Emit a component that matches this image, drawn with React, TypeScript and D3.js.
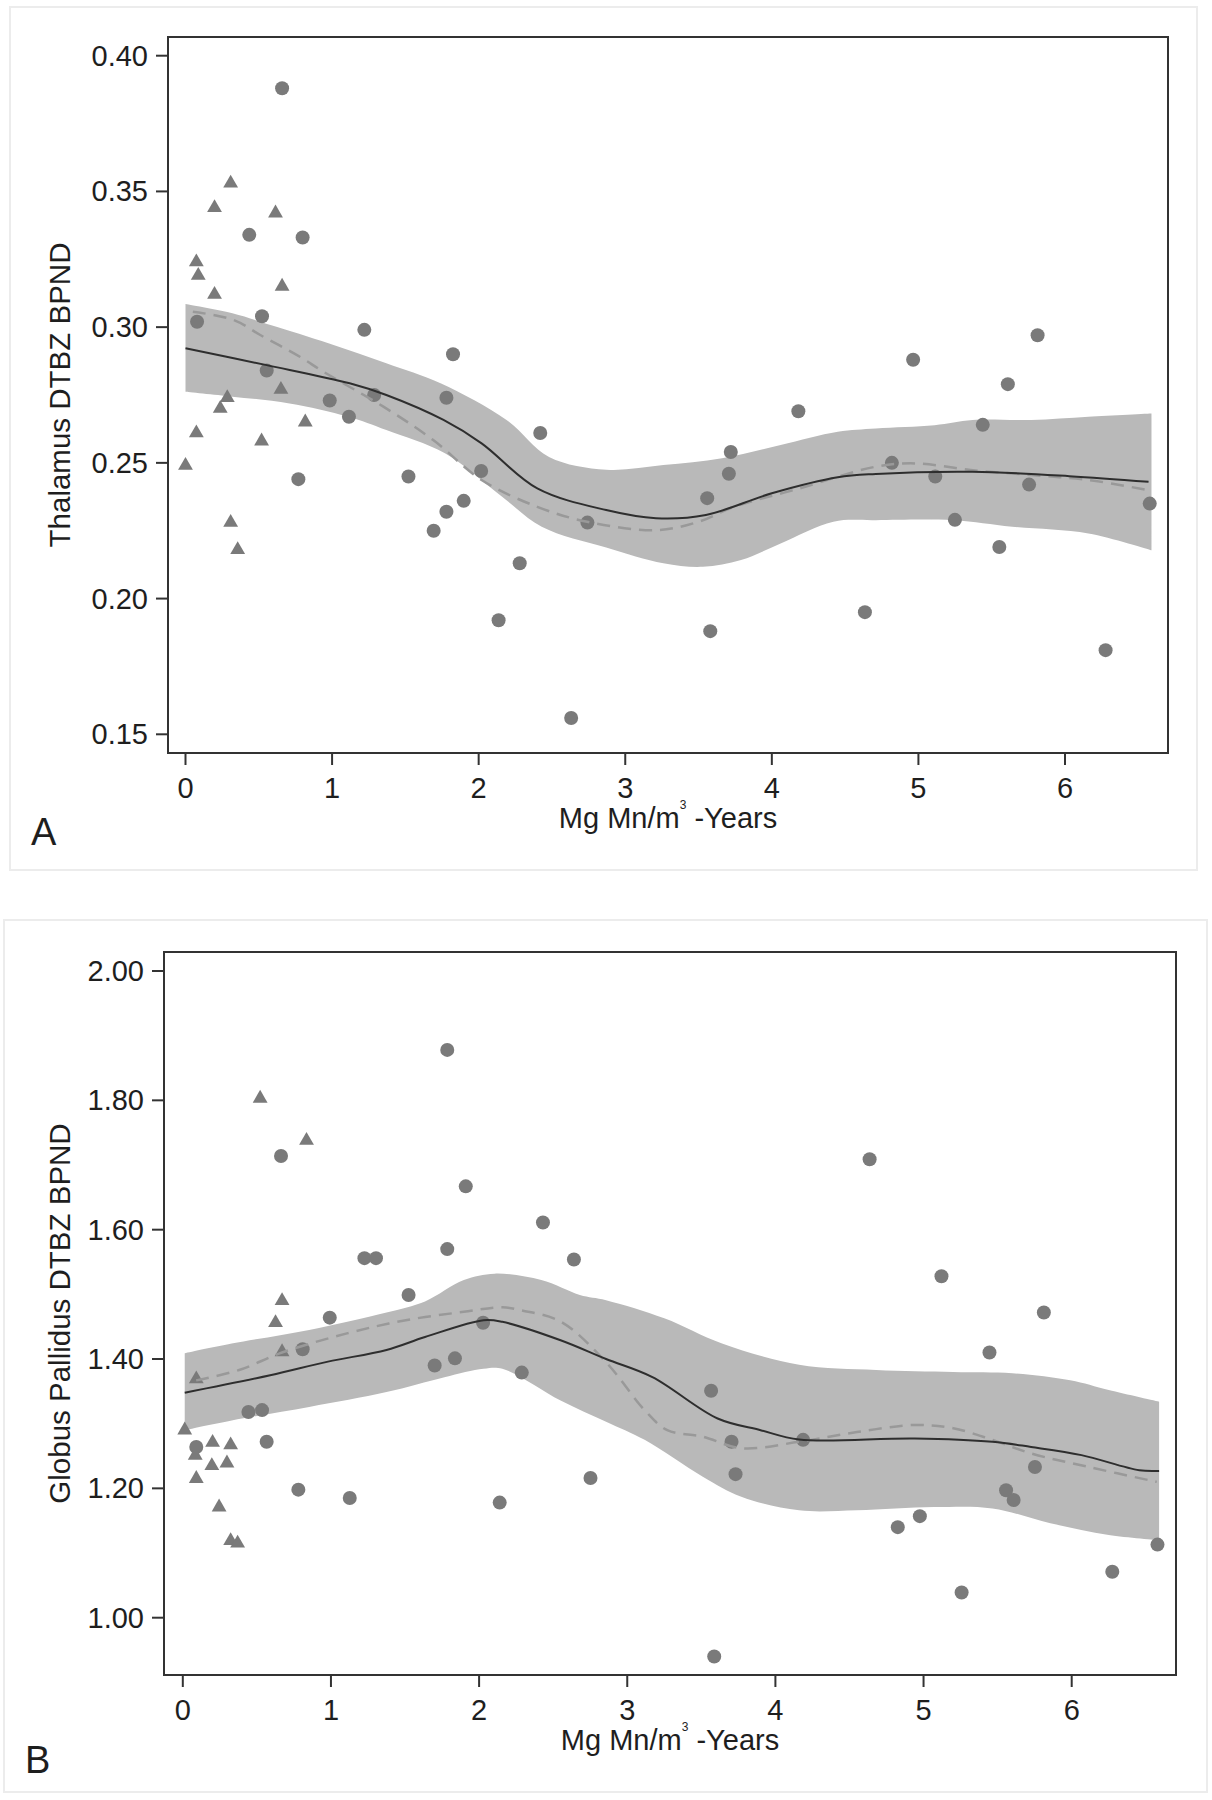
import React from "react";
import * as d3 from "d3";

// ---------- Panel A: Thalamus ----------
const aCircles: [number, number][] = [
  [0.079, 0.302], [0.435, 0.334], [0.522, 0.304], [0.554, 0.284], [0.659, 0.388],
  [0.770, 0.244], [0.799, 0.333], [0.984, 0.273], [1.115, 0.267], [1.220, 0.299],
  [1.287, 0.275], [1.521, 0.245], [1.693, 0.225], [1.780, 0.232], [1.780, 0.274],
  [1.825, 0.290], [1.898, 0.236], [2.017, 0.247], [2.136, 0.192], [2.280, 0.213],
  [2.420, 0.261], [2.631, 0.156], [2.742, 0.228], [3.559, 0.237], [3.580, 0.188],
  [3.707, 0.246], [3.720, 0.254], [4.181, 0.269], [4.635, 0.195], [4.819, 0.250],
  [4.964, 0.288], [5.115, 0.245], [5.249, 0.229], [5.439, 0.264], [5.552, 0.219],
  [5.610, 0.279], [5.755, 0.242], [5.813, 0.297], [6.277, 0.181], [6.578, 0.235],
];
const aTriangles: [number, number][] = [
  [0.000, 0.249], [0.074, 0.324], [0.087, 0.319], [0.074, 0.261], [0.198, 0.312],
  [0.198, 0.344], [0.237, 0.270], [0.285, 0.274], [0.308, 0.353], [0.308, 0.228],
  [0.356, 0.218], [0.519, 0.258], [0.614, 0.342], [0.651, 0.277], [0.659, 0.315],
  [0.817, 0.265],
];
const aFitX = [0, 0.554, 1.12, 1.37, 1.76, 2.02, 2.40, 2.87, 3.21, 3.55, 4.0, 4.45, 4.71, 5.37, 6.03, 6.57];
const aFitY = [0.2922, 0.286, 0.2793, 0.275, 0.2658, 0.2572, 0.2406, 0.2326, 0.2296, 0.2308, 0.2388, 0.2447, 0.2459, 0.2467, 0.2451, 0.243];
const aLowX = [0.05, 0.33, 0.51, 0.78, 0.94, 1.35, 1.69, 2.02, 2.40, 2.74, 3.21, 3.50, 3.74, 4.19, 4.71, 4.98, 5.37, 5.77, 6.16, 6.56];
const aLowY = [0.3057, 0.3026, 0.2971, 0.2891, 0.2836, 0.2707, 0.2584, 0.2437, 0.2338, 0.2283, 0.2252, 0.2283, 0.2338, 0.2406, 0.2486, 0.2498, 0.2473, 0.2455, 0.2437, 0.24];
const aUpX = [0, 0.32, 0.58, 0.98, 1.37, 1.74, 2.19, 2.48, 2.87, 3.26, 3.66, 4.06, 4.45, 4.71, 5.11, 5.37, 5.77, 6.16, 6.59];
const aUpY = [0.3085, 0.3051, 0.3008, 0.294, 0.2867, 0.2793, 0.2658, 0.2522, 0.2475, 0.2492, 0.2517, 0.2566, 0.2615, 0.2627, 0.2639, 0.2658, 0.2658, 0.267, 0.2682];
const aLoX = [0, 0.32, 0.71, 1.11, 1.37, 1.77, 2.16, 2.43, 2.87, 3.26, 3.53, 3.79, 4.06, 4.42, 4.71, 5.24, 5.64, 6.16, 6.59];
const aLoY = [0.2762, 0.2744, 0.2719, 0.267, 0.2621, 0.2535, 0.2375, 0.2265, 0.2188, 0.213, 0.2117, 0.2142, 0.2203, 0.2283, 0.2289, 0.2289, 0.2265, 0.224, 0.2178];
const aYTicks = [0.15, 0.2, 0.25, 0.3, 0.35, 0.4];

// ---------- Panel B: Globus Pallidus ----------
const bCircles: [number, number][] = [
  [0.091, 1.264], [0.443, 1.318], [0.535, 1.321], [0.566, 1.272], [0.663, 1.714],
  [0.780, 1.198], [0.809, 1.415], [0.992, 1.464], [1.127, 1.185], [1.226, 1.556],
  [1.304, 1.556], [1.524, 1.499], [1.700, 1.390], [1.785, 1.878], [1.785, 1.570],
  [1.837, 1.401], [1.910, 1.667], [2.027, 1.456], [2.139, 1.178], [2.288, 1.379],
  [2.431, 1.611], [2.640, 1.554], [2.752, 1.216], [3.566, 1.351], [3.587, 0.940],
  [3.704, 1.272], [3.731, 1.222], [4.187, 1.275], [4.636, 1.709], [4.826, 1.140],
  [4.975, 1.157], [5.121, 1.528], [5.257, 1.039], [5.445, 1.410], [5.557, 1.197],
  [5.608, 1.182], [5.752, 1.233], [5.812, 1.472], [6.274, 1.071], [6.579, 1.113],
];
const bTriangles: [number, number][] = [
  [0.013, 1.290], [0.084, 1.251], [0.091, 1.369], [0.091, 1.215], [0.196, 1.235],
  [0.201, 1.271], [0.245, 1.171], [0.298, 1.239], [0.323, 1.267], [0.323, 1.119],
  [0.370, 1.115], [0.522, 1.803], [0.626, 1.456], [0.670, 1.490], [0.670, 1.411],
  [0.835, 1.738],
];
const bFitX = [0.013, 0.59, 0.98, 1.375, 1.635, 2.03, 2.157, 2.55, 2.857, 3.17, 3.61, 3.90, 4.16, 4.94, 5.465, 5.726, 6.066, 6.456, 6.59];
const bFitY = [1.348, 1.375, 1.396, 1.414, 1.434, 1.46, 1.4575, 1.429, 1.40, 1.372, 1.308, 1.29, 1.2756, 1.2772, 1.272, 1.264, 1.2514, 1.228, 1.227];
const bLowX = [0.09, 0.38, 0.67, 1.114, 1.505, 1.897, 2.157, 2.29, 2.55, 2.857, 3.117, 3.27, 3.51, 3.77, 4.16, 4.55, 4.94, 5.20, 5.465, 5.726, 6.117, 6.574];
const bLowY = [1.367, 1.383, 1.41, 1.44, 1.46, 1.473, 1.48, 1.475, 1.458, 1.395, 1.321, 1.29, 1.28, 1.262, 1.272, 1.287, 1.298, 1.293, 1.275, 1.254, 1.233, 1.21];
const bUpX = [0.013, 0.33, 0.853, 1.375, 1.635, 1.897, 2.105, 2.42, 2.68, 2.857, 3.25, 3.64, 4.16, 4.68, 5.20, 5.60, 5.99, 6.25, 6.59];
const bUpY = [1.409, 1.424, 1.445, 1.472, 1.489, 1.522, 1.532, 1.522, 1.499, 1.491, 1.463, 1.424, 1.391, 1.383, 1.380, 1.378, 1.367, 1.352, 1.334];
const bLoX = [0.013, 0.33, 0.853, 1.375, 1.766, 2.03, 2.157, 2.55, 2.857, 3.117, 3.51, 3.77, 4.16, 4.55, 5.07, 5.465, 5.856, 6.25, 6.59];
const bLoY = [1.29, 1.305, 1.326, 1.349, 1.372, 1.385, 1.385, 1.336, 1.303, 1.275, 1.218, 1.187, 1.166, 1.166, 1.171, 1.169, 1.146, 1.128, 1.12];
const bYTicks = [1.0, 1.2, 1.4, 1.6, 1.8, 2.0];

const xTicks = [0, 1, 2, 3, 4, 5, 6];

const FONT = "'Liberation Sans', Arial, Helvetica, sans-serif";
const TEXT = "#1e1e1e";
const POINT = "#7a7a7a";
const BAND = "#b9b9b9";

const zip = (xs: number[], ys: number[]) => xs.map((x, i) => [x, ys[i]] as [number, number]);

type PanelProps = {
  card: { x: number; y: number; w: number; h: number };
  frame: { l: number; t: number; r: number; b: number };
  xRange: [number, number];
  yDomain: [number, number];
  yRange: [number, number];
  yTicks: number[];
  circles: [number, number][];
  triangles: [number, number][];
  fit: [number, number][];
  low: [number, number][];
  up: [number, number][];
  lo: [number, number][];
  yTitle: string;
  letter: string;
  letterPos: [number, number];
};

function Panel(p: PanelProps) {
  const x = d3.scaleLinear().domain([0, 6]).range(p.xRange);
  const y = d3.scaleLinear().domain(p.yDomain).range(p.yRange);
  const line = d3
    .line<[number, number]>()
    .x((d) => x(d[0]))
    .y((d) => y(d[1]))
    .curve(d3.curveCatmullRom.alpha(0.5));
  const upPath = line(p.up) as string;
  const loPath = (line([...p.lo].reverse()) as string).replace(/^M/, "L");
  const bandPath = upPath + loPath + "Z";
  const tri = d3.symbol().type(d3.symbolTriangle).size(95)() as string;
  const { l, t, r, b } = p.frame;
  const midX = (l + r) / 2;
  const midY = (t + b) / 2;
  return (
    <g>
      <rect x={p.card.x} y={p.card.y} width={p.card.w} height={p.card.h} fill="#fff" stroke="#ececec" strokeWidth={2} />
      <path d={bandPath} fill={BAND} stroke="none" />
      {p.circles.map((d, i) => (
        <circle key={"c" + i} cx={x(d[0])} cy={y(d[1])} r={7} fill={POINT} />
      ))}
      {p.triangles.map((d, i) => (
        <path key={"t" + i} d={tri} transform={`translate(${x(d[0])},${y(d[1])})`} fill={POINT} />
      ))}
      <path d={line(p.low) as string} fill="none" stroke="#999" strokeWidth={2.5} strokeDasharray="13,8" />
      <path d={line(p.fit) as string} fill="none" stroke="#2e2e2e" strokeWidth={2} />
      <rect x={l} y={t} width={r - l} height={b - t} fill="none" stroke="#333" strokeWidth={2} />
      {p.yTicks.map((v) => (
        <g key={"y" + v}>
          <line x1={l - 12} x2={l} y1={y(v)} y2={y(v)} stroke="#333" strokeWidth={2} />
          <text x={l - 20} y={y(v) + 10} textAnchor="end" fontSize={29} fontFamily={FONT} fill={TEXT}>
            {v.toFixed(2)}
          </text>
        </g>
      ))}
      {xTicks.map((v) => (
        <g key={"x" + v}>
          <line x1={x(v)} x2={x(v)} y1={b} y2={b + 12} stroke="#333" strokeWidth={2} />
          <text x={x(v)} y={b + 45} textAnchor="middle" fontSize={29} fontFamily={FONT} fill={TEXT}>
            {v}
          </text>
        </g>
      ))}
      <text x={midX} y={b + 75} textAnchor="middle" fontSize={29} fontFamily={FONT} fill={TEXT}>
        Mg Mn/m
        <tspan fontSize={12} dy={-19}>3</tspan>
        <tspan dy={19}> -Years</tspan>
      </text>
      <text
        transform={`translate(70,${midY}) rotate(-90)`}
        textAnchor="middle"
        fontSize={29.5}
        fontFamily={FONT}
        fill={TEXT}
      >
        {p.yTitle}
      </text>
      <text x={p.letterPos[0]} y={p.letterPos[1]} fontSize={38} fontFamily={FONT} fill={TEXT}>
        {p.letter}
      </text>
    </g>
  );
}

export default function App() {
  return (
    <div style={{ position: "absolute", left: 0, top: 0 }}>
      <svg width={1212} height={1800} style={{ display: "block", background: "#fff" }}>
        <Panel
          card={{ x: 10, y: 7, w: 1187, h: 863 }}
          frame={{ l: 168, t: 37, r: 1168, b: 753 }}
          xRange={[185.5, 1065]}
          yDomain={[0.15, 0.4]}
          yRange={[734.3, 55.7]}
          yTicks={aYTicks}
          circles={aCircles}
          triangles={aTriangles}
          fit={zip(aFitX, aFitY)}
          low={zip(aLowX, aLowY)}
          up={zip(aUpX, aUpY)}
          lo={zip(aLoX, aLoY)}
          yTitle="Thalamus DTBZ BPND"
          letter="A"
          letterPos={[31, 845]}
        />
        <Panel
          card={{ x: 4, y: 920, w: 1203, h: 872 }}
          frame={{ l: 164, t: 952, r: 1176, b: 1675 }}
          xRange={[182.8, 1071.7]}
          yDomain={[1.0, 2.0]}
          yRange={[1617.7, 971]}
          yTicks={bYTicks}
          circles={bCircles}
          triangles={bTriangles}
          fit={zip(bFitX, bFitY)}
          low={zip(bLowX, bLowY)}
          up={zip(bUpX, bUpY)}
          lo={zip(bLoX, bLoY)}
          yTitle="Globus Pallidus DTBZ BPND"
          letter="B"
          letterPos={[25, 1773]}
        />
      </svg>
    </div>
  );
}
